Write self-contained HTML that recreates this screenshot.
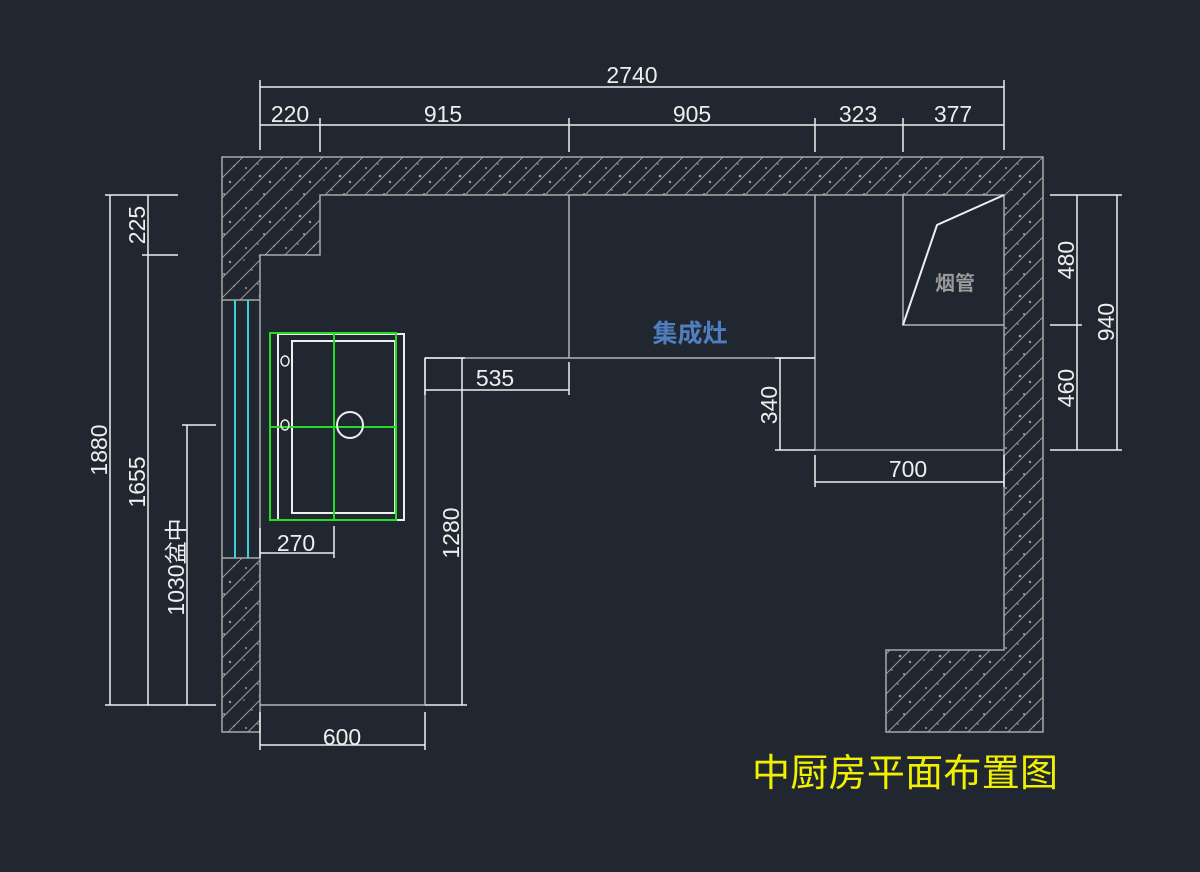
<!DOCTYPE html>
<html><head><meta charset="utf-8"><style>
html,body{margin:0;padding:0;background:#212730;}
svg{display:block}
text{font-family:"Liberation Sans","Noto Sans CJK SC",sans-serif;fill:#eeeeee;font-size:23px}
</style></head><body>
<svg width="1200" height="872" viewBox="0 0 1200 872" xmlns="http://www.w3.org/2000/svg">
<defs>
<pattern id="h" width="40" height="40" patternUnits="userSpaceOnUse">
<rect width="40" height="40" fill="#212730"/>
<path d="M-10 50 L50 -10 M-10 30 L30 -10 M10 50 L50 10" stroke="#9a9a9a" stroke-width="1"/>
<g fill="#a0a0a0"><circle cx="6" cy="8" r="1"/><circle cx="18" cy="4" r="0.8"/><circle cx="30" cy="22" r="1.2"/><circle cx="12" cy="30" r="0.8"/><circle cx="34" cy="6" r="0.9"/><circle cx="24" cy="34" r="1"/><circle cx="4" cy="20" r="0.8"/><circle cx="20" cy="16" r="1.3"/></g>
</pattern>
</defs>
<rect width="1200" height="872" fill="#212730"/>
<g stroke="#a8a8a8" stroke-width="1.5">
<path d="M222 157 L1043 157 L1043 732 L886 732 L886 650 L1004 650 L1004 195 L320 195 L320 255 L260 255 L260 300 L222 300 Z" fill="url(#h)"/>
<rect x="222" y="558" width="38" height="174" fill="url(#h)"/>
<line x1="222" y1="300" x2="222" y2="558"/><line x1="260" y1="300" x2="260" y2="558"/>
</g>
<g stroke="#3cd0d8" stroke-width="2"><line x1="235" y1="300" x2="235" y2="558"/><line x1="248" y1="300" x2="248" y2="558"/></g>
<g stroke="#b4b4b4" stroke-width="1.5" fill="none">
<path d="M260 705 L425 705 L425 358 L815 358"/>
<path d="M815 195 L815 450 L1004 450"/>
<line x1="569" y1="195" x2="569" y2="358"/>
<path d="M903 195 L903 325 L1004 325"/>
</g>
<polyline points="1004,195 937,225 903,325" stroke="#eee" stroke-width="2" fill="none"/>
<text x="955" y="290" text-anchor="middle" style="fill:#9a9a9a;font-size:20px;font-weight:bold">烟管</text>
<text x="690" y="342" text-anchor="middle" style="fill:#4f7fbf;font-size:25px;font-weight:bold">集成灶</text>
<g fill="none" stroke-width="2">
<rect x="278" y="334" width="126" height="186" stroke="#eee"/>
<rect x="292" y="341" width="103" height="172" stroke="#eee"/>
<rect x="270" y="333" width="126" height="187" stroke="#22dd22"/>
<line x1="334" y1="333" x2="334" y2="520" stroke="#22dd22"/>
<line x1="270" y1="427" x2="396" y2="427" stroke="#22dd22"/>
<circle cx="350" cy="425" r="13" stroke="#eee"/>
<ellipse cx="285" cy="361" rx="4" ry="5" stroke="#eee" stroke-width="1.5"/>
<ellipse cx="285" cy="425" rx="4" ry="5" stroke="#eee" stroke-width="1.5"/>
</g>
<g stroke="#eeeeee" stroke-width="1.5">
<line x1="260" y1="87" x2="1004" y2="87"/><line x1="260" y1="80" x2="260" y2="150"/><line x1="1004" y1="80" x2="1004" y2="150"/>
<line x1="260" y1="125" x2="1004" y2="125"/>
<line x1="320" y1="118" x2="320" y2="152"/><line x1="569" y1="118" x2="569" y2="152"/><line x1="815" y1="118" x2="815" y2="152"/><line x1="903" y1="118" x2="903" y2="152"/>
<line x1="110" y1="195" x2="110" y2="705"/><line x1="148" y1="195" x2="148" y2="705"/><line x1="187" y1="425" x2="187" y2="705"/>
<line x1="105" y1="195" x2="178" y2="195"/><line x1="142" y1="255" x2="178" y2="255"/><line x1="105" y1="705" x2="216" y2="705"/><line x1="182" y1="425" x2="216" y2="425"/>
<line x1="425" y1="390" x2="569" y2="390"/><line x1="425" y1="358" x2="465" y2="358"/><line x1="569" y1="362" x2="569" y2="395"/><line x1="425" y1="358" x2="425" y2="395"/>
<line x1="462" y1="358" x2="462" y2="705"/><line x1="425" y1="705" x2="467" y2="705"/>
<line x1="780" y1="358" x2="780" y2="450"/><line x1="775" y1="358" x2="815" y2="358"/><line x1="775" y1="450" x2="815" y2="450"/>
<line x1="815" y1="482" x2="1004" y2="482"/><line x1="815" y1="455" x2="815" y2="487"/><line x1="1004" y1="455" x2="1004" y2="487"/>
<line x1="1077" y1="195" x2="1077" y2="450"/><line x1="1117" y1="195" x2="1117" y2="450"/>
<line x1="1050" y1="195" x2="1122" y2="195"/><line x1="1050" y1="325" x2="1082" y2="325"/><line x1="1050" y1="450" x2="1122" y2="450"/>
<line x1="260" y1="745" x2="425" y2="745"/><line x1="260" y1="712" x2="260" y2="750"/><line x1="425" y1="712" x2="425" y2="750"/>
<line x1="260" y1="553" x2="334" y2="553"/><line x1="260" y1="528" x2="260" y2="558"/><line x1="334" y1="526" x2="334" y2="558"/>
</g>
<g text-anchor="middle">
<text x="632" y="83">2740</text>
<text x="290" y="122">220</text><text x="443" y="122">915</text><text x="692" y="122">905</text><text x="858" y="122">323</text><text x="953" y="122">377</text>
<text x="495" y="386">535</text><text x="908" y="477">700</text><text x="342" y="745">600</text><text x="296" y="551">270</text>
<text transform="translate(107,450) rotate(-90)">1880</text>
<text transform="translate(145,482) rotate(-90)">1655</text>
<text transform="translate(145,225) rotate(-90)">225</text>
<text transform="translate(184,567) rotate(-90)">1030盆中</text>
<text transform="translate(459,533) rotate(-90)">1280</text>
<text transform="translate(777,405) rotate(-90)">340</text>
<text transform="translate(1074,260) rotate(-90)">480</text>
<text transform="translate(1074,388) rotate(-90)">460</text>
<text transform="translate(1114,322) rotate(-90)">940</text>
</g>
<text x="752" y="786" style="fill:#f0f000;font-size:38px" textLength="306">中厨房平面布置图</text>
</svg>
</body></html>
